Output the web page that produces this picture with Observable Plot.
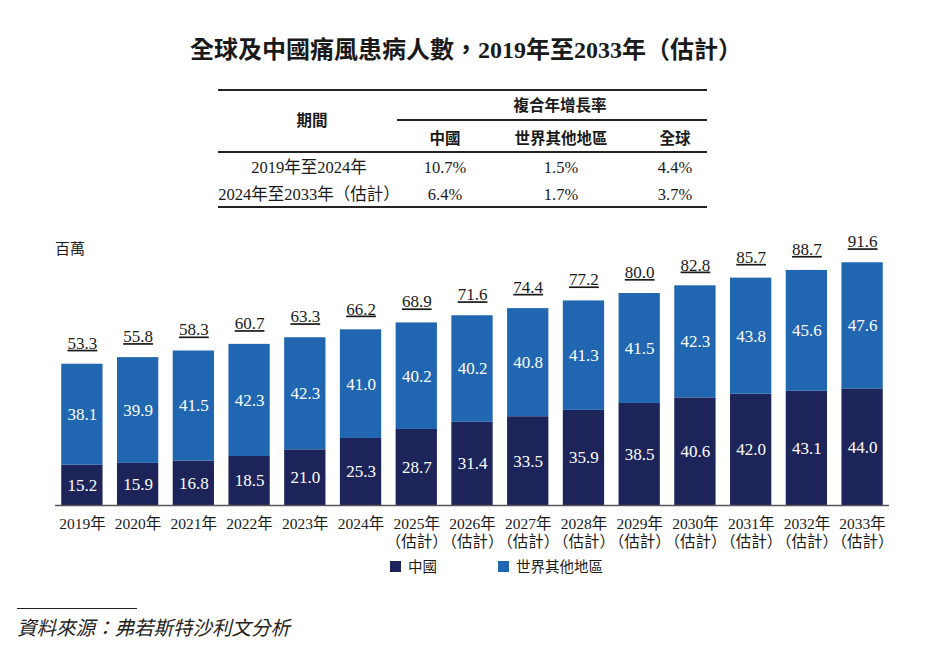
<!DOCTYPE html>
<html>
<head>
<meta charset="utf-8">
<script src="https://cdn.jsdelivr.net/npm/d3@7"></script>
<script src="https://cdn.jsdelivr.net/npm/@observablehq/plot@0.6"></script>
<style>
  html, body { margin: 0; padding: 0; background: #fff; }
  #page { position: relative; width: 933px; height: 649px; overflow: hidden; background: #fff;
          font-family: "Liberation Serif", "Noto Sans CJK TC", serif; color: #1a1a1a; }
  .abs { position: absolute; white-space: nowrap; line-height: 1; }
  .hline { position: absolute; background: #222; }
  #chart { position: absolute; left: 0; top: 225px; }
  .totals text { text-decoration: underline; text-decoration-thickness: 1px; }
  .xlab text { font-feature-settings: "halt"; }
  .sq { position: absolute; width: 11px; height: 11px; }
</style>
</head>
<body>
<div id="page"></div>
<script>
// ---------- data ----------
const title = "全球及中國痛風患病人數，2019年至2033年（估計）";
const years = ["2019年","2020年","2021年","2022年","2023年","2024年","2025年","2026年","2027年","2028年","2029年","2030年","2031年","2032年","2033年"];
const estimated = [false,false,false,false,false,false,true,true,true,true,true,true,true,true,true];
const china = [15.2,15.9,16.8,18.5,21.0,25.3,28.7,31.4,33.5,35.9,38.5,40.6,42.0,43.1,44.0];
const rest  = [38.1,39.9,41.5,42.3,42.3,41.0,40.2,40.2,40.8,41.3,41.5,42.3,43.8,45.6,47.6];
const totals = [53.3,55.8,58.3,60.7,63.3,66.2,68.9,71.6,74.4,77.2,80.0,82.8,85.7,88.7,91.6];
const seriesNames = ["中國","世界其他地區"];
const seriesColors = ["#1d2459","#2166b1"];
const unitLabel = "百萬";
const sourceText = "資料來源：弗若斯特沙利文分析";

const tableHeaderTop = "複合年增長率";
const tableHeaderPeriod = "期間";
const tableCols = ["中國","世界其他地區","全球"];
const periods = ["2019年至2024年","2024年至2033年（估計）"];
const cagrChina = ["10.7%","6.4%"];
const cagrRest = ["1.5%","1.7%"];
const cagrGlobal = ["4.4%","3.7%"];

// ---------- helpers ----------
const page = document.getElementById("page");
function place(text, x, y, style = {}, anchor = "center") {
  const d = document.createElement("div");
  d.className = "abs";
  d.textContent = text;
  Object.assign(d.style, style);
  d.style.left = x + "px";
  d.style.top = y + "px";
  const tx = anchor === "center" ? "-50%" : anchor === "right" ? "-100%" : "0";
  d.style.transform = `translate(${tx}, -50%)`;
  page.appendChild(d);
  return d;
}
function hline(x1, x2, y, w = 1.5) {
  const d = document.createElement("div");
  d.className = "hline";
  Object.assign(d.style, { left: x1 + "px", width: (x2 - x1) + "px", top: (y - w / 2) + "px", height: w + "px" });
  page.appendChild(d);
}

// ---------- title ----------
place(title, 466, 50, { fontSize: "24px", fontWeight: "bold", fontFamily: "'Liberation Serif', 'Noto Sans CJK TC', serif" });

// ---------- table ----------
const sansBold = { fontFamily: "'Noto Sans CJK TC', sans-serif", fontWeight: "bold", fontSize: "15.5px" };
const rowFont = { fontFamily: "'Liberation Serif', 'Noto Sans CJK TC', serif", fontSize: "16.5px" };
hline(218, 707, 90);
place(tableHeaderTop, 560, 105, sansBold);
hline(397, 707, 120, 1.2);
place(tableHeaderPeriod, 312, 120, sansBold);
const colX = [445, 561, 675];
tableCols.forEach((c, i) => place(c, colX[i], 138, sansBold));
hline(218, 707, 152);
const rowY = [168, 195];
periods.forEach((p, r) => {
  place(p, 309, rowY[r], rowFont);
  place(cagrChina[r], colX[0], rowY[r], rowFont);
  place(cagrRest[r], colX[1], rowY[r], rowFont);
  place(cagrGlobal[r], colX[2], rowY[r], rowFont);
});
hline(218, 707, 207);

// ---------- unit ----------
place(unitLabel, 55, 247, { fontFamily: "'Noto Sans CJK TC', sans-serif", fontSize: "15px" }, "left");

// ---------- chart ----------
const rows = years.flatMap((y, i) => [
  { year: y, region: seriesNames[0], value: china[i] },
  { year: y, region: seriesNames[1], value: rest[i] }
]);
const xLabel = (y, i) => estimated[i] ? y + "\n（估計）" : y;

const chart = Plot.plot({
  width: 933,
  height: 330,
  marginLeft: 55,
  marginRight: 44,
  marginTop: 15,
  marginBottom: 50,
  style: { fontFamily: "'Liberation Serif', 'Noto Sans CJK TC', serif", background: "transparent", overflow: "visible" },
  x: { domain: years, paddingInner: 0.259, paddingOuter: 0.112, round: false, axis: null },
  y: { domain: [0, 100], axis: null },
  color: { domain: seriesNames, range: seriesColors },
  marks: [
    Plot.barY(rows, { x: "year", y: "value", fill: "region" }),
    Plot.text(rows, Plot.stackY({ x: "year", y: "value", z: "region", text: d => d.value.toFixed(1), fill: "white", fontSize: 17 })),
    Plot.text(totals, { x: (d, i) => years[i], y: d => d, text: d => d.toFixed(1), dy: -21, fontSize: 17, fill: "#1a1a1a", className: "totals" }),
    Plot.ruleY([0], { stroke: "#555", strokeWidth: 1.5 }),
    Plot.text(years, { x: d => d, frameAnchor: "bottom", text: (d, i) => xLabel(d, i), lineAnchor: "top", dy: 11, lineHeight: 1.15, fontSize: 15.5, fill: "#1a1a1a", className: "xlab" })
  ]
});
chart.id = "chart";
page.appendChild(chart);

// ---------- legend ----------
const legendItems = [{ x: 390, tx: 408 }, { x: 498, tx: 516 }];
seriesNames.forEach((n, i) => {
  const s = document.createElement("div");
  s.className = "sq";
  Object.assign(s.style, { left: legendItems[i].x + "px", top: "561px", background: seriesColors[i] });
  page.appendChild(s);
  place(n, legendItems[i].tx, 566, { fontFamily: "'Noto Sans CJK TC', sans-serif", fontSize: "14.5px" }, "left");
});

// ---------- source ----------
hline(17, 137, 608, 1);
place(sourceText, 17, 627, { fontFamily: "'Noto Sans CJK TC', sans-serif", fontSize: "19.5px", fontStyle: "italic", color: "#222" }, "left");
</script>
</body>
</html>
